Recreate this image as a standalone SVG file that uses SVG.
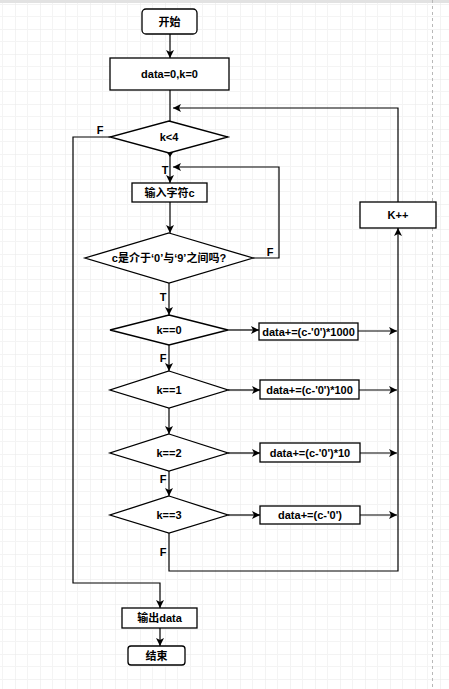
<svg xmlns="http://www.w3.org/2000/svg" width="449" height="689" viewBox="0 0 449 689">
<style>
.bg{fill:#ffffff}
.node{fill:#ffffff;stroke:#000000;stroke-width:1.3}
.t{font-family:"Liberation Sans","Noto Sans CJK SC",sans-serif;font-weight:bold;font-size:11px;fill:#000000;text-anchor:middle;dominant-baseline:central}
.e{fill:none;stroke:#000000;stroke-width:1.2}
.ea{fill:none;stroke:#000000;stroke-width:1.2;marker-end:url(#arr)}
</style>
<defs>
<pattern id="grid" x="15" y="4" width="25" height="25" patternUnits="userSpaceOnUse">
<path d="M0,0 H25 M0,0 V25" fill="none" stroke="#e8e8e8" stroke-width="1"/>
<path d="M0,12.5 H25 M12.5,0 V25" fill="none" stroke="#f4f4f4" stroke-width="1"/>
</pattern>
<marker id="arr" viewBox="0 0 8 8" refX="8" refY="4" markerWidth="8" markerHeight="8" markerUnits="userSpaceOnUse" orient="auto">
<path d="M0,0 L8,4 L0,8 L2,4 z" fill="#000000"/>
</marker>
</defs>
<rect class="bg" x="0" y="0" width="449" height="689"/>
<rect x="0" y="0" width="449" height="689" fill="url(#grid)"/>
<rect x="0" y="0" width="449" height="3" fill="#e2e2e2"/>
<line x1="432.5" y1="0" x2="432.5" y2="689" stroke="#b8b8b8" stroke-width="1" stroke-dasharray="3,3"/>

<g id="connectors">
<path class="ea" d="M170,34 V58"/>
<path class="e" d="M170,90 V121"/>
<path class="ea" d="M398,202 V108 H173"/>
<path class="ea" d="M110,137 H73 V583 H160 V608"/>
<path class="ea" d="M170,153 V183"/>
<path d="M166,151 L170,157 L174,151 L170,153 z" fill="#000000"/>
<path class="ea" d="M170,202 V233"/>
<path class="ea" d="M253,258 H279 V167 H173"/>
<path class="ea" d="M169,283 V315"/>
<path class="ea" d="M228,330 H259"/>
<path class="ea" d="M358,331 H397"/>
<path class="ea" d="M169,345 V371"/>
<path class="ea" d="M228,390 H260"/>
<path class="ea" d="M359,390 H397"/>
<path class="ea" d="M169,408 V434"/>
<path class="ea" d="M228,453 H260"/>
<path class="ea" d="M360,453 H397"/>
<path class="ea" d="M169,471 V496"/>
<path class="ea" d="M228,515 H260"/>
<path class="ea" d="M360,515 H397"/>
<path class="ea" d="M169,533 V571 H398 V228"/>
<path class="ea" d="M160,628 V646"/>
<text class="t" x="100" y="130">F</text>
<text class="t" x="165" y="170">T</text>
<text class="t" x="270" y="252">F</text>
<text class="t" x="163" y="297">T</text>
<text class="t" x="163" y="358">F</text>
<text class="t" x="163" y="479">F</text>
<text class="t" x="163" y="552">F</text>
</g>

<g id="start"><rect class="node" x="142" y="9" width="55" height="25" rx="4"/><text class="t" x="169.5" y="21.5">开始</text></g>
<g id="init"><rect class="node" x="110" y="58" width="119" height="32"/><text class="t" x="169.5" y="74">data=0,k=0</text></g>
<g id="cond_k4"><polygon class="node" points="169,121 228,137 169,153 110,137"/><text class="t" x="169" y="137">k&lt;4</text></g>
<g id="input"><rect class="node" x="132" y="183" width="75" height="19"/><text class="t" x="169.5" y="192.5">输入字符c</text></g>
<g id="cond_digit"><polygon class="node" points="169,233 253,258 169,283 85,258"/><text class="t" x="169" y="258">c是介于‘0’与‘9’之间吗?</text></g>
<g id="cond_k0"><polygon class="node" points="169,315 228,330 169,345 110,330"/><text class="t" x="169" y="330">k==0</text></g>
<g id="add1000"><rect class="node" x="259" y="323" width="99" height="17"/><text class="t" x="308.5" y="331.5">data+=(c-'0')*1000</text></g>
<g id="cond_k1"><polygon class="node" points="169,371 228,390 169,408 110,390"/><text class="t" x="169" y="390">k==1</text></g>
<g id="add100"><rect class="node" x="260" y="380" width="99" height="19"/><text class="t" x="309.5" y="389.5">data+=(c-'0')*100</text></g>
<g id="cond_k2"><polygon class="node" points="169,434 228,453 169,471 110,453"/><text class="t" x="169" y="453">k==2</text></g>
<g id="add10"><rect class="node" x="260" y="443" width="100" height="19"/><text class="t" x="310" y="452.5">data+=(c-'0')*10</text></g>
<g id="cond_k3"><polygon class="node" points="169,496 228,515 169,533 110,515"/><text class="t" x="169" y="515">k==3</text></g>
<g id="add1"><rect class="node" x="260" y="506" width="100" height="18"/><text class="t" x="310" y="515">data+=(c-'0')</text></g>
<g id="inc"><rect class="node" x="360" y="202" width="76" height="26"/><text class="t" x="398" y="215">K++</text></g>
<g id="output"><rect class="node" x="122" y="608" width="75" height="20"/><text class="t" x="159.5" y="618">输出data</text></g>
<g id="end"><rect class="node" x="128" y="646" width="57" height="19" rx="3"/><text class="t" x="156.5" y="655.5">结束</text></g>
</svg>
